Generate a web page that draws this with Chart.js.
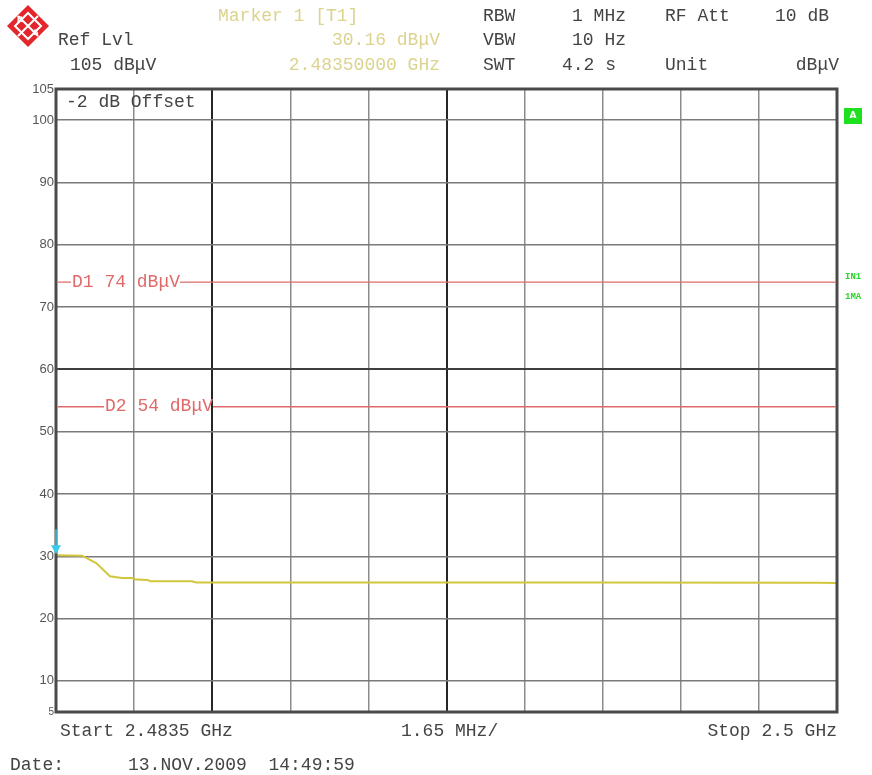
<!DOCTYPE html>
<html>
<head>
<meta charset="utf-8">
<script src="https://cdn.jsdelivr.net/npm/chart.js@4"></script>
<style>
html,body{margin:0;padding:0;background:#fff;}
canvas{display:block;}
</style>
</head>
<body>
<canvas id="c" width="872" height="775"></canvas>
<script>
// ---- data ----
const freqMHz  = [2483.5, 2484.05, 2484.35, 2484.64, 2484.89, 2485.11, 2485.19, 2485.44, 2485.49, 2486.37, 2486.46, 2490.0, 2495.0, 2499.6, 2500.0];
const levelDb  = [30.16,  30.1,    28.9,    26.8,    26.5,    26.5,    26.25,   26.2,    26.0,    26.0,    25.8,    25.8,   25.8,   25.75,  25.7];
const yTicks   = [5, 10, 20, 30, 40, 50, 60, 70, 80, 90, 100, 105];
const startMHz = 2483.5, spanPerDivMHz = 1.65, nDiv = 10;
const xTicks   = Array.from({length: nDiv + 1}, (_, k) => startMHz + spanPerDivMHz * k);
const limits   = [{name: 'D1', value: 74}, {name: 'D2', value: 54}];
const marker   = {freq: 2483.5, level: 30.16};
const header = {
  markerTitle: 'Marker 1 [T1]', markerLevel: '30.16 dBμV', markerFreq: '2.48350000 GHz',
  refLvl: 'Ref Lvl', refVal: '105 dBμV',
  rbw: ['RBW', '1 MHz'], vbw: ['VBW', '10 Hz'], swt: ['SWT', '4.2 s'],
  att: ['RF Att', '10 dB'], unit: ['Unit', 'dBμV']
};
const footer = {start: 'Start 2.4835 GHz', span: '1.65 MHz/', stop: 'Stop 2.5 GHz', date: 'Date:', stamp: '13.NOV.2009  14:49:59'};

const MONO = '18px "Liberation Mono", "DejaVu Sans Mono", monospace';
const TXT = '#444444';
const MK = '#dcd38e';

const overlay = {
  id: 'overlay',
  afterDraw(chart) {
    const ctx = chart.ctx, a = chart.chartArea, xs = chart.scales.x, ys = chart.scales.y;
    ctx.save();
    // frame
    ctx.strokeStyle = '#4a4a4a'; ctx.lineWidth = 3;
    ctx.strokeRect(a.left, a.top, a.right - a.left, a.bottom - a.top);

    // limit lines
    ctx.font = MONO;
    ctx.textBaseline = 'middle';
    const limTextX = {D1: 72, D2: 105};
    limits.forEach(l => {
      const y = ys.getPixelForValue(l.value);
      const label = l.name + ' ' + l.value + ' dBμV';
      const tx = limTextX[l.name];
      const w = ctx.measureText(label).width;
      ctx.strokeStyle = '#e06a6a'; ctx.lineWidth = 1.3;
      ctx.beginPath();
      ctx.moveTo(a.left + 2, y); ctx.lineTo(tx - 1, y);
      ctx.moveTo(tx + w, y); ctx.lineTo(a.right - 1, y);
      ctx.stroke();
      ctx.fillStyle = '#e06a6a';
      ctx.fillText(label, tx, y);
    });

    // marker
    const mx = xs.getPixelForValue(marker.freq), my = ys.getPixelForValue(marker.level);
    ctx.strokeStyle = '#3ccbe6'; ctx.lineWidth = 1.5;
    ctx.beginPath(); ctx.moveTo(mx, my - 26); ctx.lineTo(mx, my - 6); ctx.stroke();
    ctx.fillStyle = '#3ccbe6';
    ctx.beginPath(); ctx.moveTo(mx - 5, my - 10); ctx.lineTo(mx + 5, my - 10); ctx.lineTo(mx, my - 1); ctx.closePath(); ctx.fill();

    // offset text
    ctx.font = MONO; ctx.fillStyle = TXT; ctx.textBaseline = 'middle'; ctx.textAlign = 'left';
    ctx.fillText('-2 dB Offset', 66, 102);

    // header
    ctx.fillStyle = TXT;
    ctx.fillText(header.refLvl, 58, 40);
    ctx.fillText(header.refVal, 70, 65);
    ctx.fillText(header.rbw[0], 483, 16);
    ctx.fillText(header.vbw[0], 483, 40);
    ctx.fillText(header.swt[0], 483, 65);
    ctx.fillText(header.att[0], 665, 16);
    ctx.fillText(header.unit[0], 665, 65);
    ctx.fillText(header.swt[1], 562, 65);
    ctx.fillText(header.vbw[1], 572, 40);
    ctx.textAlign = 'right';
    ctx.fillText(header.rbw[1], 626, 16);
    ctx.fillText(header.att[1], 829, 16);
    ctx.fillText(header.unit[1], 839, 65);
    ctx.fillStyle = MK;
    ctx.fillText(header.markerLevel, 440, 40);
    ctx.fillText(header.markerFreq, 440, 65);
    ctx.textAlign = 'left';
    ctx.fillText(header.markerTitle, 218, 16);

    // footer
    ctx.fillStyle = TXT;
    ctx.fillText(footer.start, 60, 731);
    ctx.fillText(footer.span, 401, 731);
    ctx.fillText(footer.date, 10, 765);
    ctx.fillText(footer.stamp, 128, 765);
    ctx.textAlign = 'right';
    ctx.fillText(footer.stop, 837, 731);

    // right-side indicators
    ctx.fillStyle = '#1ee01e';
    ctx.fillRect(844, 108, 18, 16);
    ctx.fillStyle = '#ffffff';
    ctx.font = 'bold 9px "DejaVu Sans", sans-serif';
    ctx.textAlign = 'center';
    ctx.fillText('A', 853, 116);
    ctx.fillStyle = '#2bd42b';
    ctx.font = 'bold 9px "Liberation Mono", monospace';
    ctx.textAlign = 'left';
    ctx.fillText('IN1', 845, 277);
    ctx.fillText('1MA', 845, 297);

    // logo
    const cx = 28, cy = 26, r = 21;
    ctx.fillStyle = '#e3262b';
    ctx.beginPath(); ctx.moveTo(cx, cy - r); ctx.lineTo(cx + r, cy); ctx.lineTo(cx, cy + r); ctx.lineTo(cx - r, cy); ctx.closePath(); ctx.fill();
    ctx.strokeStyle = '#ffffff'; ctx.lineWidth = 2;
    const q = 13;
    ctx.beginPath(); ctx.moveTo(cx, cy - q); ctx.lineTo(cx + q, cy); ctx.lineTo(cx, cy + q); ctx.lineTo(cx - q, cy); ctx.closePath(); ctx.stroke();
    ctx.beginPath(); ctx.moveTo(cx - 10, cy - 10); ctx.lineTo(cx + 10, cy + 10); ctx.moveTo(cx + 10, cy - 10); ctx.lineTo(cx - 10, cy + 10); ctx.stroke();
    ctx.fillStyle = '#ffffff';
    ctx.font = 'bold 9px "Liberation Serif", serif';
    ctx.textAlign = 'center';
    ctx.fillText('R', cx - 8, cy - 6);
    ctx.fillText('S', cx + 8, cy + 7);
    ctx.restore();
  }
};

const darkX = new Set([2, 5]);
new Chart(document.getElementById('c'), {
  type: 'line',
  data: {
    datasets: [{
      data: freqMHz.map((f, i) => ({x: f, y: levelDb[i]})),
      borderColor: '#d2c63c', borderWidth: 2, pointRadius: 0, tension: 0, fill: false
    }]
  },
  options: {
    responsive: false, animation: false, events: [],
    layout: {padding: {left: 0, top: 89, right: 35, bottom: 63}},
    plugins: {legend: {display: false}, tooltip: {enabled: false}},
    scales: {
      x: {
        type: 'linear', min: startMHz, max: startMHz + spanPerDivMHz * nDiv,
        afterBuildTicks: s => { s.ticks = xTicks.map(v => ({value: v})); },
        afterFit: s => { s.height = 0; },
        ticks: {display: false},
        border: {display: false},
        grid: {
          drawTicks: false,
          color: c => (c.index === 0 || c.index === nDiv) ? 'rgba(0,0,0,0)' : (darkX.has(c.index) ? '#262626' : '#8c8c8c'),
          lineWidth: c => darkX.has(c.index) ? 2 : 1.5
        }
      },
      y: {
        type: 'linear', min: 5, max: 105,
        afterBuildTicks: s => { s.ticks = yTicks.map(v => ({value: v})); },
        afterFit: s => { s.width = 56; },
        border: {display: false},
        ticks: {
          padding: 2, color: '#555',
          font: c => ({family: '"Liberation Sans", Arial, sans-serif', size: (c.tick && c.tick.value === 5) ? 10 : 13}),
          callback: v => String(v)
        },
        grid: {
          drawTicks: false,
          color: c => (c.tick.value === 5 || c.tick.value === 105) ? 'rgba(0,0,0,0)' : (c.tick.value === 60 ? '#3e3e3e' : '#7a7a7a'),
          lineWidth: c => c.tick.value === 60 ? 2 : 1.5
        }
      }
    }
  },
  plugins: [overlay]
});
</script>
</body>
</html>
